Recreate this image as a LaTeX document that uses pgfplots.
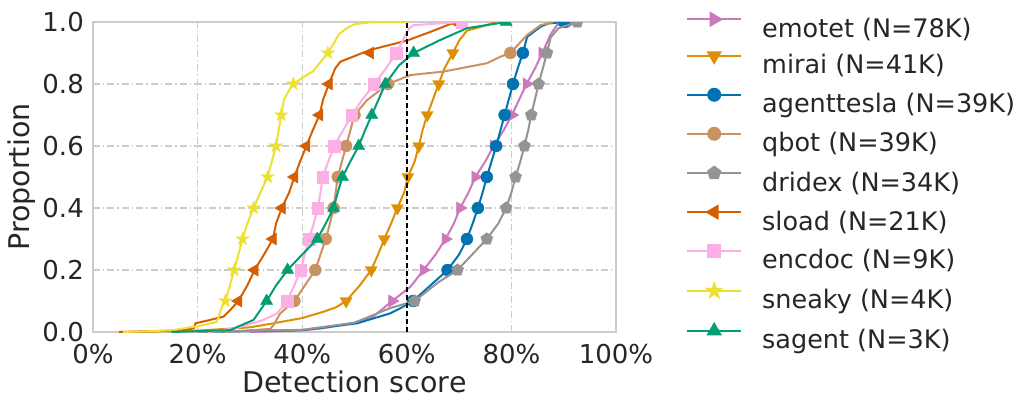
\documentclass[border=0pt]{standalone}
\usepackage{fontspec}
\setmainfont{DejaVu Sans}
\usepackage{pgfplots}
\pgfplotsset{compat=1.18}
\usetikzlibrary{plotmarks}
\definecolor{cemotet}{HTML}{CC78BC}
\definecolor{cmirai}{HTML}{DE8F05}
\definecolor{cagent}{HTML}{0173B2}
\definecolor{cqbot}{HTML}{CA9161}
\definecolor{cdridex}{HTML}{949494}
\definecolor{csload}{HTML}{D55E00}
\definecolor{cencdoc}{HTML}{FBAFE4}
\definecolor{csneaky}{HTML}{ECE133}
\definecolor{csagent}{HTML}{029E73}
\definecolor{txtc}{HTML}{262626}
\definecolor{gridc}{HTML}{CCCCCC}
\pgfdeclareplotmark{fstar}{%
  \pgfpathmoveto{\pgfpointpolar{90}{\pgfplotmarksize}}%
  \pgfpathlineto{\pgfpointpolar{126}{0.382\pgfplotmarksize}}%
  \pgfpathlineto{\pgfpointpolar{162}{\pgfplotmarksize}}%
  \pgfpathlineto{\pgfpointpolar{198}{0.382\pgfplotmarksize}}%
  \pgfpathlineto{\pgfpointpolar{234}{\pgfplotmarksize}}%
  \pgfpathlineto{\pgfpointpolar{270}{0.382\pgfplotmarksize}}%
  \pgfpathlineto{\pgfpointpolar{306}{\pgfplotmarksize}}%
  \pgfpathlineto{\pgfpointpolar{342}{0.382\pgfplotmarksize}}%
  \pgfpathlineto{\pgfpointpolar{18}{\pgfplotmarksize}}%
  \pgfpathlineto{\pgfpointpolar{54}{0.382\pgfplotmarksize}}%
  \pgfpathclose\pgfusepathqfillstroke}
\begin{document}
\begin{tikzpicture}
\useasboundingbox (-93pt,-65pt) rectangle (932pt,332pt);
\begin{axis}[
  at={(0,0)}, anchor=south west,
  scale only axis, width=523pt, height=310pt,
  xmin=0, xmax=100, ymin=0, ymax=1,
  xtick={0,20,40,60,80,100},
  xticklabels={0\%,20\%,40\%,60\%,80\%,100\%},
  ytick={0,0.2,0.4,0.6,0.8,1.0},
  /pgf/number format/assume math mode=true,
  yticklabel style={/pgf/number format/fixed, /pgf/number format/fixed zerofill, /pgf/number format/precision=1},
  major tick length=0pt,
  tick label style={font=\fontsize{26}{30}\selectfont, text=txtc, inner sep=0pt},
  xticklabel style={anchor=north, yshift=-12pt},
  yticklabel style={anchor=east, xshift=-9pt},
  xlabel={Detection score}, ylabel={Proportion},
  label style={font=\fontsize{28.5}{32}\selectfont, text=txtc, inner sep=0pt},
  xlabel style={at={(axis description cs:0.5,0)}, anchor=base, yshift=-60pt},
  ylabel style={at={(axis description cs:-0.1205,0.5)}, anchor=base},
  grid=major,
  major grid style={gridc, line width=1.2pt, dash pattern=on 7pt off 3pt on 1.5pt off 3pt},
  axis line style={gridc, line width=1.5pt},
  clip marker paths=true,
  legend cell align=left,
  legend style={at={(axis description cs:1,1)}, anchor=north west, xshift=70pt, yshift=9pt,
    draw=none, fill=none, inner sep=0pt, row sep=9pt, column sep=0pt,
    font=\fontsize{25.5}{30}\selectfont, text=txtc,
    nodes={inner sep=0pt, text height=20pt, text depth=6pt},
    /tikz/every odd column/.append style={column sep=20pt}},
  legend image code/.code={\draw[mark repeat=2,mark phase=2,#1] plot coordinates {(0pt,11pt)(27pt,11pt)(54pt,11pt)};},
]
% legend
\addlegendimage{cemotet, line width=2pt, mark=triangle*, mark size=7pt, mark options={rotate=-90}}
\addlegendentry{emotet (N=78K)}
\addlegendimage{cmirai, line width=2pt, mark=triangle*, mark size=7pt, mark options={rotate=180}}
\addlegendentry{mirai (N=41K)}
\addlegendimage{cagent, line width=2pt, mark=*, mark size=6pt}
\addlegendentry{agenttesla (N=39K)}
\addlegendimage{cqbot, line width=2pt, mark=*, mark size=6pt}
\addlegendentry{qbot (N=39K)}
\addlegendimage{cdridex, line width=2pt, mark=pentagon*, mark size=6.3pt}
\addlegendentry{dridex (N=34K)}
\addlegendimage{csload, line width=2pt, mark=triangle*, mark size=7pt, mark options={rotate=90}}
\addlegendentry{sload (N=21K)}
\addlegendimage{cencdoc, line width=2pt, mark=square*, mark size=5.8pt}
\addlegendentry{encdoc (N=9K)}
\addlegendimage{csneaky, line width=2pt, mark=fstar, mark size=7pt}
\addlegendentry{sneaky (N=4K)}
\addlegendimage{csagent, line width=2pt, mark=triangle*, mark size=7pt}
\addlegendentry{sagent (N=3K)}
% emotet
\addplot[cemotet, line width=2pt, forget plot] coordinates {(30,0) (40,0.005) (44,0.012) (50,0.03) (53.6,0.05) (57.2,0.1) (60.7,0.146) (63.2,0.2) (65.5,0.25) (67.4,0.3) (69,0.35) (70.2,0.4) (71.8,0.45) (73.1,0.5) (75,0.55) (76.6,0.6) (78.5,0.65) (80.1,0.7) (81.5,0.75) (82.9,0.8) (84.5,0.85) (85.9,0.9) (87.5,0.96) (88.7,0.99) (91.3,1.0)};
\addplot[cemotet, only marks, mark=triangle*, mark size=7pt, mark options={rotate=-90}, forget plot] coordinates {(57.2,0.1) (63.2,0.2) (67.4,0.3) (70.2,0.4) (73.1,0.5) (76.6,0.6) (80.1,0.7) (82.9,0.8) (85.9,0.9) (91.3,1.0)};
% mirai
\addplot[cmirai, line width=2pt, forget plot] coordinates {(5,0) (18.6,0.003) (30,0.015) (34.5,0.028) (40,0.045) (44,0.065) (46.5,0.08) (48.4,0.1) (51,0.15) (53.2,0.2) (54.5,0.25) (55.7,0.3) (57,0.35) (58.2,0.4) (59.5,0.45) (60.2,0.5) (61.5,0.55) (62.3,0.6) (63,0.65) (63.9,0.7) (65,0.75) (66.1,0.8) (67.2,0.85) (68.8,0.9) (70,0.94) (71.5,0.972) (75.3,0.99) (77,1.0)};
\addplot[cmirai, only marks, mark=triangle*, mark size=7pt, mark options={rotate=180}, forget plot] coordinates {(48.4,0.1) (53.2,0.2) (55.7,0.3) (58.2,0.4) (60.2,0.5) (62.3,0.6) (63.9,0.7) (66.1,0.8) (68.8,0.9)};
% agenttesla
\addplot[cagent, line width=2pt, forget plot] coordinates {(20,0) (40,0.006) (50.5,0.028) (56.8,0.06) (58.8,0.077) (61.2,0.1) (64.5,0.15) (67.8,0.2) (70,0.25) (71.5,0.3) (72.6,0.35) (73.6,0.4) (74.5,0.45) (75.3,0.5) (76.2,0.55) (77.1,0.6) (77.9,0.65) (78.7,0.7) (79.5,0.75) (80.3,0.8) (81.2,0.85) (82.2,0.9) (83,0.952) (85.6,0.985) (87,0.995) (90.1,1.0)};
\addplot[cagent, only marks, mark=*, mark size=6pt, forget plot] coordinates {(61.2,0.1) (67.8,0.2) (71.5,0.3) (73.6,0.4) (75.3,0.5) (77.1,0.6) (78.7,0.7) (80.3,0.8) (82.2,0.9) (90.1,1.0)};
% qbot
\addplot[cqbot, line width=2pt, forget plot] coordinates {(25,0) (33.9,0.01) (34.5,0.022) (35.8,0.06) (38.5,0.1) (40.5,0.15) (42.5,0.2) (43.5,0.25) (44.5,0.3) (45.3,0.35) (46,0.4) (46.4,0.45) (46.8,0.5) (47.6,0.55) (48.4,0.6) (49.2,0.65) (50,0.7) (52.4,0.748) (56.4,0.8) (60.7,0.829) (67,0.84) (75.3,0.867) (77.9,0.888) (79.8,0.9) (83,0.958) (85.6,0.99) (88,1.0)};
\addplot[cqbot, only marks, mark=*, mark size=6pt, forget plot] coordinates {(38.5,0.1) (42.5,0.2) (44.5,0.3) (46.0,0.4) (46.8,0.5) (48.4,0.6) (50.0,0.7) (56.4,0.8) (79.8,0.9)};
% dridex
\addplot[cdridex, line width=2pt, forget plot] coordinates {(20,0) (40,0.007) (50,0.03) (56.8,0.077) (61.5,0.1) (66,0.16) (69.7,0.2) (72.5,0.25) (75.3,0.3) (77.5,0.35) (79,0.4) (80,0.45) (80.8,0.5) (81.7,0.55) (82.5,0.6) (83.2,0.65) (83.8,0.7) (84.5,0.75) (85.2,0.8) (86,0.85) (86.8,0.9) (87.5,0.95) (89,0.98) (92.6,1.0)};
\addplot[cdridex, only marks, mark=pentagon*, mark size=6.3pt, forget plot] coordinates {(61.5,0.1) (69.7,0.2) (75.3,0.3) (79.0,0.4) (80.8,0.5) (82.5,0.6) (83.8,0.7) (85.2,0.8) (86.8,0.9) (92.6,1.0)};
% sload
\addplot[csload, line width=2pt, forget plot] coordinates {(5,0) (16.7,0.005) (19.3,0.012) (19.6,0.028) (22.4,0.039) (25,0.05) (26.2,0.07) (27.8,0.1) (29.5,0.15) (30.9,0.2) (32.7,0.25) (34.4,0.3) (35,0.35) (36.1,0.4) (37.5,0.45) (38.5,0.5) (39.6,0.55) (40.8,0.6) (42,0.65) (43.3,0.7) (44,0.75) (45.1,0.8) (46.3,0.85) (47.3,0.872) (53,0.91) (60,0.94) (64.5,0.968) (69.3,1.0)};
\addplot[csload, only marks, mark=triangle*, mark size=7pt, mark options={rotate=90}, forget plot] coordinates {(27.8,0.1) (30.9,0.2) (34.4,0.3) (36.1,0.4) (38.5,0.5) (40.8,0.6) (43.3,0.7) (45.1,0.8) (53.0,0.9) (69.3,1.0)};
% encdoc
\addplot[cencdoc, line width=2pt, forget plot] coordinates {(22,0) (27.5,0.013) (32.6,0.039) (35.2,0.06) (37.1,0.1) (38.5,0.15) (39.7,0.2) (40.5,0.25) (41.3,0.3) (42.2,0.35) (43,0.4) (43.5,0.45) (43.9,0.5) (45,0.55) (46.1,0.6) (47.8,0.65) (49.5,0.7) (51.5,0.75) (53.8,0.8) (56,0.85) (58,0.9) (59.5,0.95) (60.5,0.98) (61.3,0.99) (66,0.995) (70.5,1.0)};
\addplot[cencdoc, only marks, mark=square*, mark size=5.8pt, forget plot] coordinates {(37.1,0.1) (39.7,0.2) (41.3,0.3) (43.0,0.4) (43.9,0.5) (46.1,0.6) (49.5,0.7) (53.8,0.8) (58.0,0.9) (70.5,1.0)};
% sneaky
\addplot[csneaky, line width=2pt, forget plot] coordinates {(5.7,0) (10,0.002) (15.3,0.006) (21,0.022) (23.7,0.033) (24.6,0.08) (25.3,0.1) (26,0.14) (27,0.2) (27.8,0.25) (28.6,0.3) (29.5,0.35) (30.7,0.4) (32,0.45) (33.4,0.5) (34.2,0.55) (35,0.6) (35.5,0.65) (36,0.7) (36.5,0.75) (37.5,0.78) (38.3,0.8) (40,0.82) (42,0.84) (44.9,0.9) (46,0.93) (47,0.96) (48.5,0.98) (50,0.993) (53,0.999) (60,1.0)};
\addplot[csneaky, only marks, mark=fstar, mark size=7pt, forget plot] coordinates {(25.3,0.1) (27.0,0.2) (28.6,0.3) (30.7,0.4) (33.4,0.5) (35.0,0.6) (36.0,0.7) (38.3,0.8) (44.9,0.9)};
% sagent
\addplot[csagent, line width=2pt, forget plot] coordinates {(15,0) (26.2,0.006) (30.7,0.039) (33.2,0.1) (35,0.15) (37.2,0.2) (40,0.25) (42.9,0.3) (44.5,0.35) (46,0.4) (46.8,0.45) (47.7,0.5) (49.2,0.55) (50.8,0.6) (52,0.65) (53.3,0.7) (54.6,0.75) (55.9,0.8) (58.5,0.86) (61.3,0.9) (66.4,0.942) (71.5,0.98) (79,1.0)};
\addplot[csagent, only marks, mark=triangle*, mark size=7pt, forget plot] coordinates {(33.2,0.1) (37.2,0.2) (42.9,0.3) (46.0,0.4) (47.7,0.5) (50.8,0.6) (53.3,0.7) (55.9,0.8) (61.3,0.9) (79.0,1.0)};
% threshold
\addplot[black, line width=2pt, dash pattern=on 5.5pt off 2.5pt, forget plot] coordinates {(60,0) (60,1)};
\end{axis}
\end{tikzpicture}
\end{document}
